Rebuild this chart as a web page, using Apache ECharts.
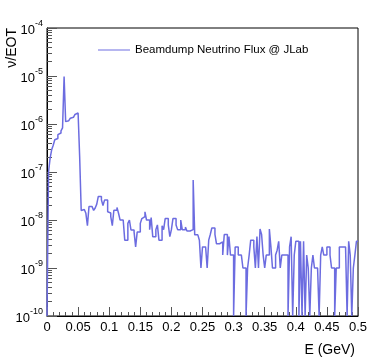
<!DOCTYPE html>
<html>
<head>
<meta charset="utf-8">
<script src="https://cdn.jsdelivr.net/npm/echarts@6.0.0/dist/echarts.min.js"></script>
<style>
  html, body { margin: 0; padding: 0; background: #fff; }
  #flux-echart { width: 381px; height: 362px; }
</style>
</head>
<body>
<div id="flux-echart"></div>
<script>
// histogram: 200 bins of 0.0025 GeV from 0 to 0.5, value per bin (0 = empty bin)
const binWidth = 0.0025;
const fluxValues = [
  0, 1.0e-7, 1.95e-7, 2.9e-7, 3.6e-7, 4.7e-7, 5.0e-7, 6.0e-7, 6.5e-7, 7.2e-7,
  8.3e-7, 9.8e-6, 1.12e-6, 1.17e-6, 1.2e-6, 1.32e-6, 1.38e-6, 1.41e-6, 1.58e-6, 1.7e-6,
  1.74e-6, 2.1e-7, 1.58e-8, 1.66e-8, 1.51e-8, 1.38e-8, 7.6e-9, 1.9e-8, 1.9e-8, 1.9e-8,
  1.58e-8, 1.78e-8, 2.14e-8, 3.1e-8, 3.1e-8, 2.63e-8, 2.0e-8, 2.6e-8, 2.6e-8, 1.48e-8,
  1.4e-8, 1.17e-8, 7.6e-9, 1.6e-8, 1.6e-8, 1.82e-8, 1.38e-8, 1.0e-8, 1.0e-8, 1.1e-8,
  3.8e-9, 3.8e-9, 8.5e-9, 1.0e-8, 6.2e-9, 6.2e-9, 5.6e-9, 2.75e-9, 5.6e-9, 5.6e-9,
  8.5e-9, 1.07e-8, 1.17e-8, 1.48e-8, 1.0e-8, 1.0e-8, 6.3e-9, 1.12e-8, 4.5e-9, 4.5e-9,
  6.3e-9, 7.9e-9, 3.8e-9, 3.8e-9, 7.6e-9, 6.3e-9, 1.07e-8, 1.07e-8, 7.9e-9, 4.5e-9,
  6.3e-9, 1.07e-8, 1.07e-8, 7.9e-9, 6.3e-9, 6.3e-9, 1.0e-8, 6.3e-9, 6.3e-9, 7.1e-9,
  5.9e-9, 5.9e-9, 6.3e-9, 6.3e-9, 6.8e-8, 4.9e-9, 4.9e-9, 4.9e-9, 3.8e-9, 1.0e-9,
  2.75e-9, 2.75e-9, 2.75e-9, 1.0e-9, 3.8e-9, 5.0e-9, 6.8e-9, 6.8e-9, 5.0e-9, 3.2e-9,
  3.2e-9, 3.5e-9, 3.5e-9, 1.86e-9, 5.0e-9, 5.0e-9, 1.86e-9, 4.5e-9, 1.86e-9, 1.86e-9,
  0, 2.75e-9, 2.75e-9, 1.86e-9, 1.86e-9, 1.86e-9, 1.0e-9, 1.0e-9, 0, 1.0e-9,
  1.86e-9, 3.8e-9, 3.8e-9, 2.75e-9, 1.0e-9, 4.5e-9, 1.0e-9, 6.5e-9, 5.0e-9, 1.86e-9,
  1.0e-9, 1.86e-9, 1.86e-9, 6.5e-9, 2.75e-9, 1.0e-9, 1.0e-9, 1.86e-9, 2.35e-9, 3.6e-9,
  1.0e-9, 1.86e-9, 1.86e-9, 1.86e-9, 1.86e-9, 0, 2.75e-9, 4.5e-9, 0, 1.86e-9,
  3.6e-9, 3.6e-9, 0, 3.6e-9, 0, 3.6e-9, 0, 1.86e-9, 1.0e-9, 0,
  1.0e-9, 1.86e-9, 1.0e-9, 1.0e-9, 1.0e-9, 0, 1.86e-9, 2.75e-9, 1.86e-9, 1.86e-9,
  2.75e-9, 2.75e-9, 1.86e-9, 1.0e-9, 1.0e-9, 0, 1.0e-9, 1.0e-9, 2.75e-9, 2.75e-9,
  2.75e-9, 2.75e-9, 2.75e-9, 0, 3.6e-9, 1.86e-9, 0, 1.0e-9, 1.86e-9, 3.6e-9
];

const seriesName = 'Beamdump Neutrino Flux @ JLab';
const xTitle = 'E (GeV)';
const yTitle = 'ν/EOT';
const xMin = 0, xMax = 0.5, xStep = 0.05;
const yMajorTicks = [1e-10, 1e-9, 1e-8, 1e-7, 1e-6, 1e-5, 1e-4];
const yMinorFactors = [2, 3, 4, 5, 6, 7, 8, 9];

const fontFamily = '"Liberation Sans", Arial, sans-serif';
const lineColor = '#6c6ce0';

function makeFluxEchart() {
  const myEchart = echarts.init(document.getElementById('flux-echart'));
  const yMin = yMajorTicks[0];
  const yMax = yMajorTicks[yMajorTicks.length - 1];

  // minor ticks 2..9 x 10^n
  const yMinorTicks = [];
  for (let i = 0; i < yMajorTicks.length - 1; i++) {
    yMinorFactors.forEach(f => yMinorTicks.push(f * yMajorTicks[i]));
  }

  // step line from bin low edges, empty bins go to the floor
  const points = fluxValues.map((v, i) => [i * binWidth, v > 0 ? v : yMin]);
  points.push([xMax, points[points.length - 1][1]]);

  const option = {
    animation: false,
    textStyle: { fontFamily: fontFamily },
    grid: {
      left: 47,
      top: 28,
      width: 311,
      height: 288,
      show: true,
      borderColor: '#000',
      borderWidth: 1,
      outerBoundsMode: 'none'
    },
    legend: {
      data: [seriesName],
      left: 93,
      top: 39,
      icon: 'path://M0,0 H32 V1 H0 Z',
      itemWidth: 32,
      itemHeight: 1.5,
      textStyle: { fontSize: 11.5, color: '#000', fontFamily: fontFamily }
    },
    xAxis: {
      type: 'value',
      min: xMin,
      max: xMax,
      interval: xStep,
      name: xTitle,
      nameLocation: 'end',
      nameGap: -3,
      nameMoveOverlap: false,
      nameTextStyle: {
        fontSize: 14, color: '#000', align: 'right', verticalAlign: 'top',
        padding: [27, 0, 0, 0]
      },
      axisLine: { lineStyle: { color: '#000', width: 1 } },
      axisTick: { inside: true, length: 9, lineStyle: { color: '#555' } },
      minorTick: { show: true, splitNumber: 5, length: 4, lineStyle: { color: '#555' } },
      splitLine: { show: false },
      axisLabel: {
        color: '#000',
        fontSize: 13,
        margin: 5,
        formatter: v => String(parseFloat(v.toFixed(3)))
      }
    },
    yAxis: [
      {
        type: 'log',
        min: yMin,
        max: yMax,
        name: yTitle,
        nameLocation: 'end',
        nameGap: 0,
        nameRotate: 90,
        nameMoveOverlap: false,
        nameTextStyle: {
          fontSize: 14, color: '#000', align: 'right', verticalAlign: 'bottom',
          padding: [0, 0, 28, 0]
        },
        axisLine: { show: true, lineStyle: { color: '#000', width: 1 } },
        axisTick: { inside: true, length: 10, customValues: yMajorTicks, lineStyle: { color: '#555' } },
        splitLine: { show: false },
        axisLabel: {
          customValues: yMajorTicks,
          margin: 4,
          formatter: v => '{b|10}{s|' + Math.round(Math.log10(v)) + '}',
          rich: {
            b: { fontSize: 13, color: '#000', fontFamily: fontFamily, verticalAlign: 'bottom', lineHeight: 18 },
            s: { fontSize: 9, color: '#000', fontFamily: fontFamily, verticalAlign: 'top', lineHeight: 18 }
          }
        }
      },
      {
        type: 'log',
        min: yMin,
        max: yMax,
        position: 'left',
        axisLine: { show: false },
        axisTick: { inside: true, length: 5, customValues: yMinorTicks, lineStyle: { color: '#555' } },
        axisLabel: { show: false },
        splitLine: { show: false }
      }
    ],
    series: [
      {
        name: seriesName,
        type: 'line',
        step: 'end',
        symbol: 'none',
        clip: true,
        lineStyle: { color: lineColor, width: 1.5 },
        itemStyle: { color: lineColor },
        data: points
      }
    ]
  };

  myEchart.setOption(option);
}

makeFluxEchart();
</script>
</body>
</html>
